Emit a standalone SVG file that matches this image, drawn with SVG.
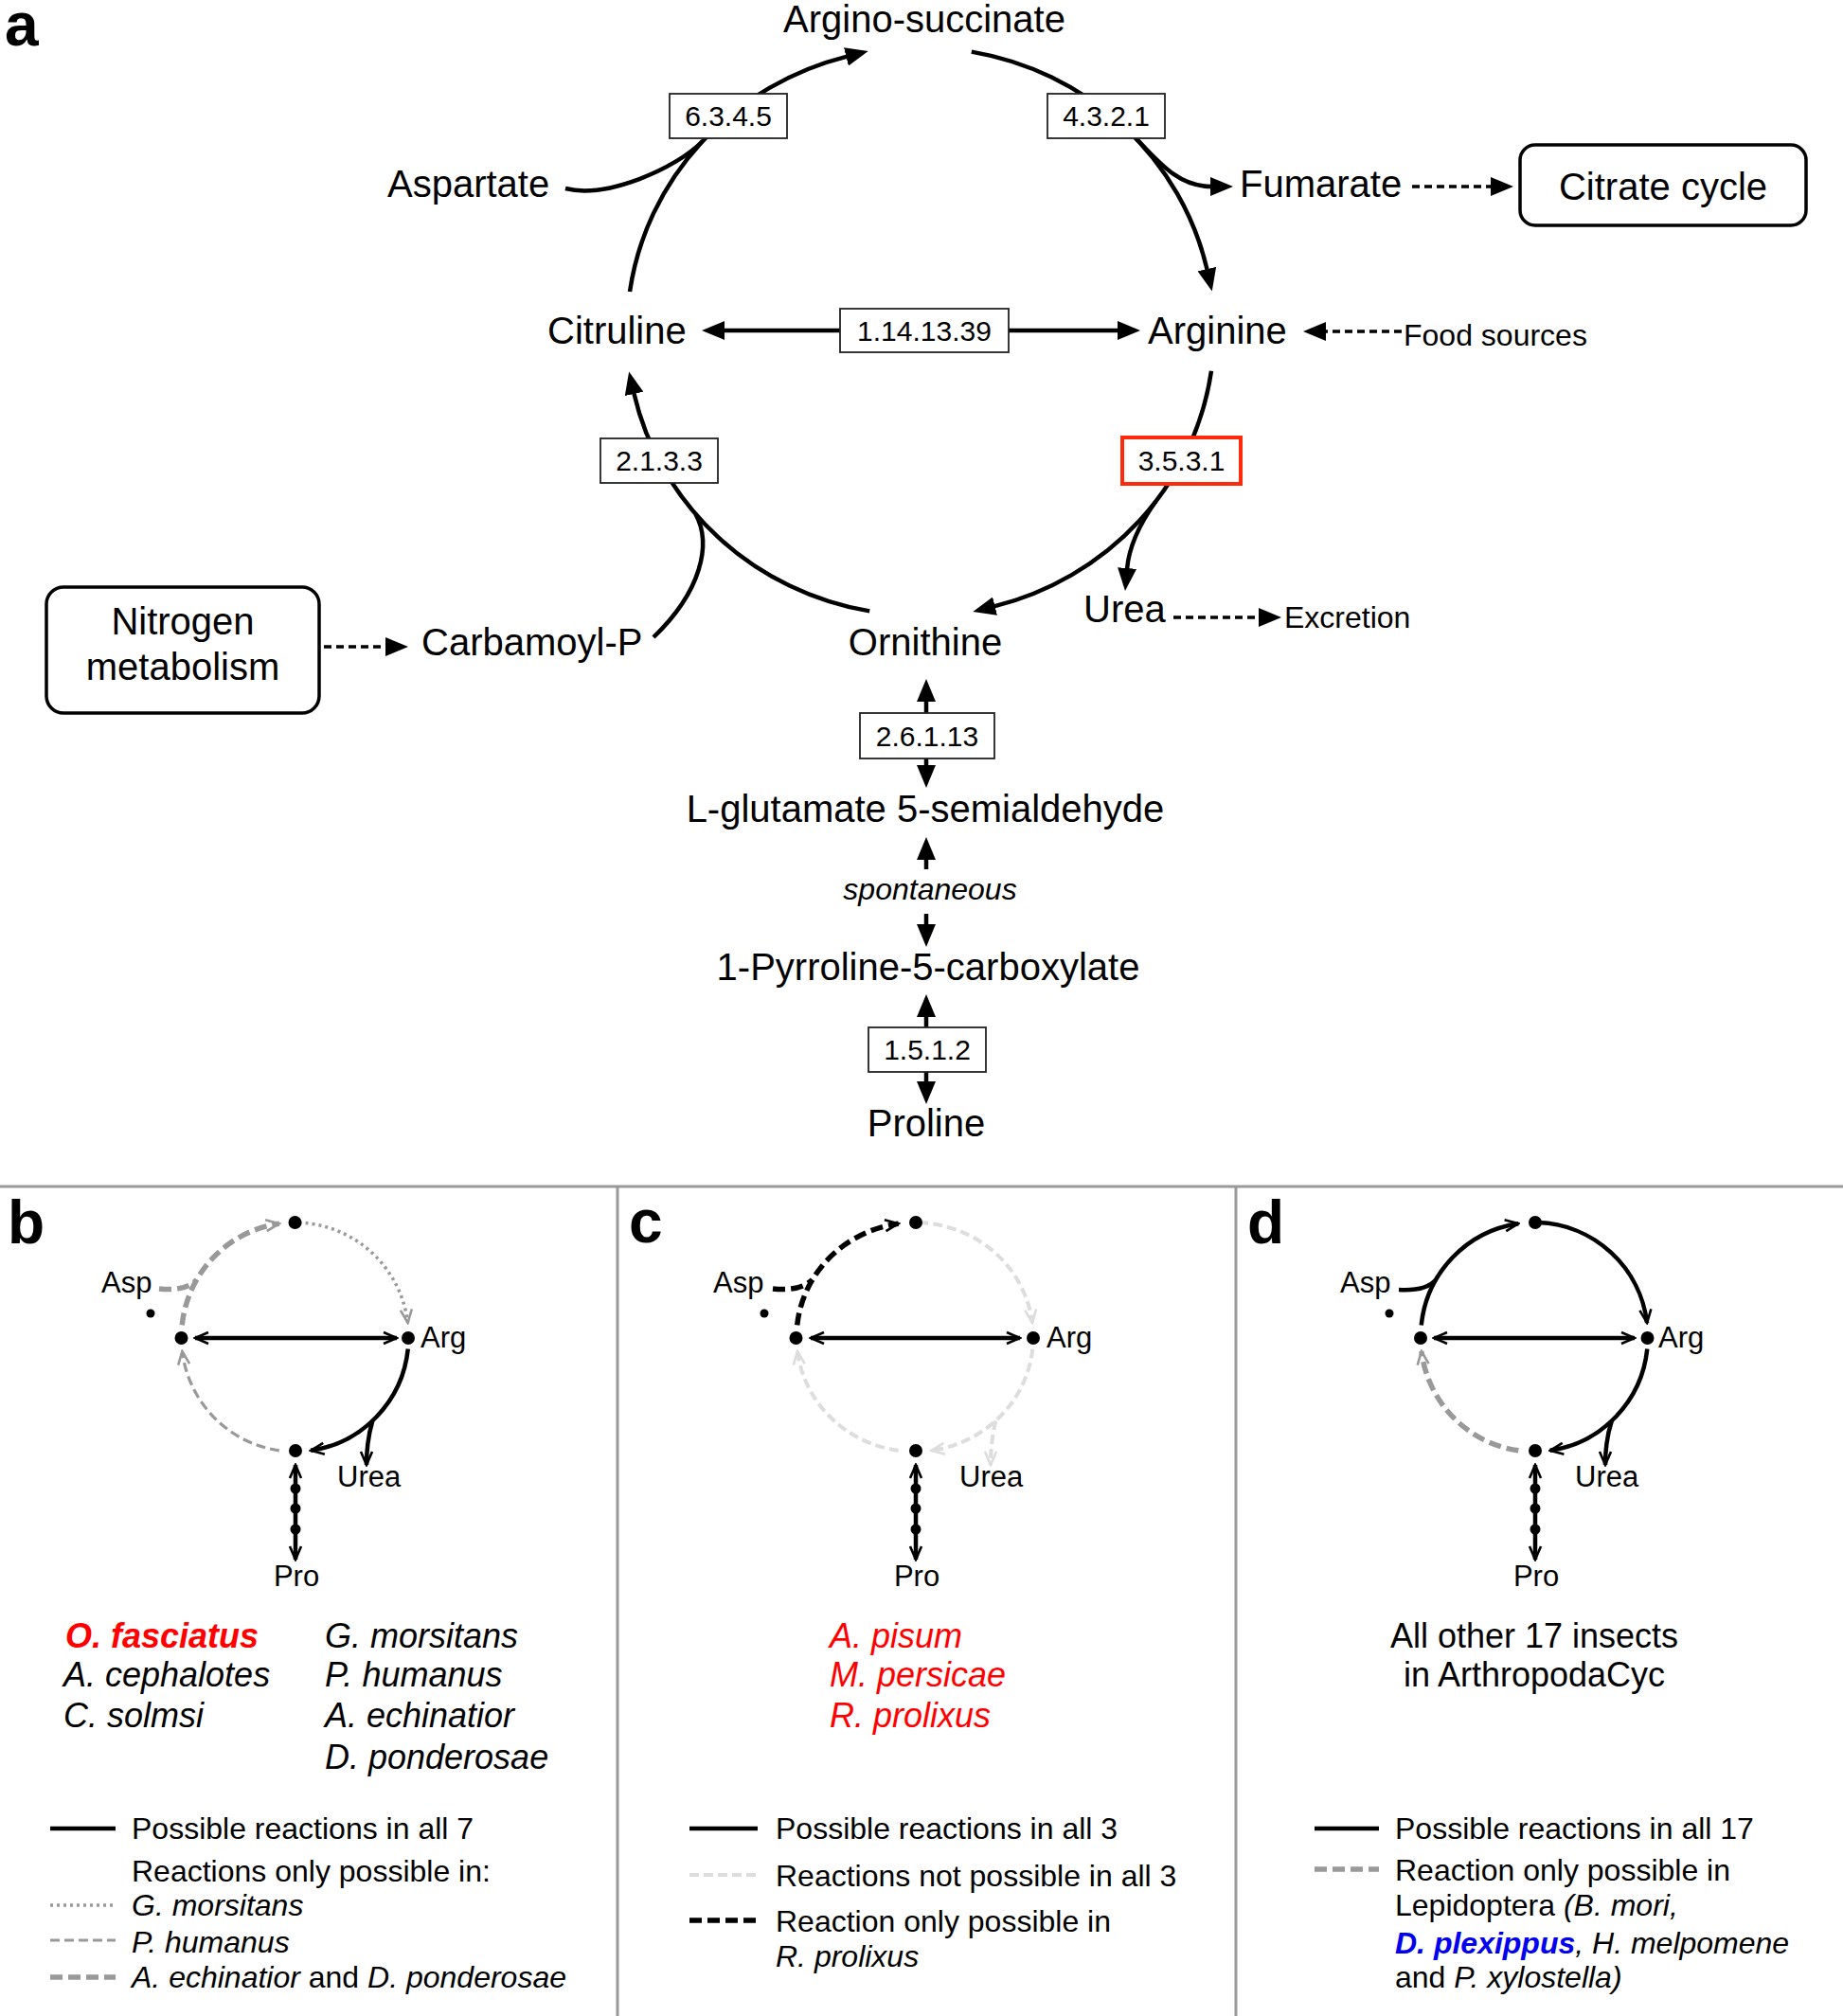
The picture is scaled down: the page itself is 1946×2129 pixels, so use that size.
<svg xmlns="http://www.w3.org/2000/svg" width="1946" height="2129" viewBox="0 0 1946 2129">
<style>
text{font-family:"Liberation Sans",Arial,sans-serif;fill:#000}
.lab{font-size:64px;font-weight:bold}
.met{font-size:40px}
.sm{font-size:32px}
.ec{font-size:30px;text-anchor:middle}
.mid{text-anchor:middle}
.it{font-style:italic}
.sp{font-size:36px}
.leg{font-size:32px}
.mini{font-size:31px}
.box{fill:#fff;stroke:#222;stroke-width:1.8}
.rbox{fill:#fff;stroke:#ff2a0a;stroke-width:4}
.rnd{fill:#fff;stroke:#000;stroke-width:3.5}
.arc{fill:none;stroke:#000;stroke-width:4.5}
.dsh{fill:none;stroke:#000;stroke-width:3.5;stroke-dasharray:8 5}
.s-blk{fill:none;stroke:#000;stroke-width:4.5}
.s-gth{fill:none;stroke:#999;stroke-width:5.5;stroke-dasharray:13 6}
.s-gmd{fill:none;stroke:#999;stroke-width:3.2;stroke-dasharray:10 5}
.s-gdt{fill:none;stroke:#999;stroke-width:3.5;stroke-dasharray:3 4}
.s-lt{fill:none;stroke:#ddd;stroke-width:4;stroke-dasharray:10 5}
.s-bdh{fill:none;stroke:#000;stroke-width:5.5;stroke-dasharray:13 6}
.div{stroke:#999;stroke-width:3;fill:none}
.red{fill:#ff0000}
.blue{fill:#0000ee}
</style>
<defs>
<marker id="ah" viewBox="0 0 24 20" markerWidth="24" markerHeight="20" refX="1" refY="10" orient="auto-start-reverse" markerUnits="userSpaceOnUse"><path d="M0,0 L24,10 L0,20 z" fill="#000"/></marker>
<marker id="ck" viewBox="-17 -9 19 18" markerWidth="19" markerHeight="18" refX="0" refY="0" orient="auto-start-reverse" markerUnits="userSpaceOnUse"><path d="M-14,-6 L0,0 L-14,6" fill="none" stroke="#000" stroke-width="2.6"/></marker>
<marker id="ckg" viewBox="-17 -9 19 18" markerWidth="19" markerHeight="18" refX="0" refY="0" orient="auto" markerUnits="userSpaceOnUse"><path d="M-14,-6 L0,0 L-14,6" fill="none" stroke="#999" stroke-width="2.6"/></marker>
<marker id="ckl" viewBox="-17 -9 19 18" markerWidth="19" markerHeight="18" refX="0" refY="0" orient="auto" markerUnits="userSpaceOnUse"><path d="M-14,-6 L0,0 L-14,6" fill="none" stroke="#ddd" stroke-width="2.6"/></marker>
</defs>
<rect width="1946" height="2129" fill="#fff"/>

<!-- ================= Panel a ================= -->
<g id="connectors-a">
<path class="arc" d="M665,308 A310,300 0 0 1 894.4,59.6" marker-end="url(#ah)"/>
<path class="arc" d="M597,199 C640,210 714,178 741.6,149.2"/>
<path class="arc" d="M1025.8,54.6 A310,300 0 0 1 1274.6,285.1" marker-end="url(#ah)"/>
<path class="arc" d="M1200.3,147 C1225,173 1245,197 1279,197" marker-end="url(#ah)"/>
<path class="arc" d="M1279,391.8 A310,300 0 0 1 1049.6,640.4" marker-end="url(#ah)"/>
<path class="arc" d="M1220.2,529.7 C1202,555 1192,578 1190,601" marker-end="url(#ah)"/>
<path class="arc" d="M918.2,645.4 A310,300 0 0 1 669.3,414.9" marker-end="url(#ah)"/>
<path class="arc" d="M690,673 C740,625 752,575 734.5,542.9"/>
<path class="arc" d="M887,349 L764,349" marker-end="url(#ah)"/>
<path class="arc" d="M1065,349 L1181,349" marker-end="url(#ah)"/>
<path class="arc" d="M978,753 L978,740" marker-end="url(#ah)"/>
<path class="arc" d="M978,801 L978,809" marker-end="url(#ah)"/>
<path class="arc" d="M978,918 L978,907" marker-end="url(#ah)"/>
<path class="arc" d="M978,965 L978,977" marker-end="url(#ah)"/>
<path class="arc" d="M978,1085 L978,1073" marker-end="url(#ah)"/>
<path class="arc" d="M978,1132 L978,1143" marker-end="url(#ah)"/>
<path class="dsh" d="M1480,350 L1399,350" marker-end="url(#ah)"/>
<path class="dsh" d="M1491,197 L1575,197" marker-end="url(#ah)"/>
<path class="dsh" d="M342,683 L408,683" marker-end="url(#ah)"/>
<path class="dsh" d="M1239,652 L1330,652" marker-end="url(#ah)"/>
</g>

<text class="lab" x="5" y="48">a</text>

<g id="n-arginosuccinate"><text class="met mid" x="976" y="34">Argino-succinate</text></g>
<g id="n-aspartate"><text class="met" x="409" y="208">Aspartate</text></g>
<g id="n-fumarate"><text class="met" x="1309" y="208">Fumarate</text></g>
<g id="n-citrate"><rect class="rnd" x="1605" y="153" width="302" height="85" rx="16"/><text class="met mid" x="1756" y="211">Citrate cycle</text></g>
<g id="n-citruline"><text class="met" x="578" y="363">Citruline</text></g>
<g id="n-arginine"><text class="met" x="1212" y="363">Arginine</text></g>
<g id="n-food"><text class="sm" x="1482" y="365">Food sources</text></g>
<g id="n-nitrogen"><rect class="rnd" x="49" y="620" width="288" height="133" rx="18"/><text class="met mid" x="193" y="670">Nitrogen</text><text class="met mid" x="193" y="718">metabolism</text></g>
<g id="n-carbamoyl"><text class="met" x="445" y="692">Carbamoyl-P</text></g>
<g id="n-ornithine"><text class="met mid" x="977" y="692">Ornithine</text></g>
<g id="n-urea"><text class="met" x="1144" y="657">Urea</text></g>
<g id="n-excretion"><text class="sm" x="1356" y="663">Excretion</text></g>
<g id="n-lglut"><text class="met mid" x="977" y="868">L-glutamate 5-semialdehyde</text></g>
<g id="n-spont"><text class="sm it mid" x="982" y="950">spontaneous</text></g>
<g id="n-p5c"><text class="met mid" x="980" y="1035">1-Pyrroline-5-carboxylate</text></g>
<g id="n-proline"><text class="met mid" x="978" y="1200">Proline</text></g>

<g id="ec-6345"><rect class="box" x="707" y="99" width="124" height="47"/><text class="ec" x="769" y="133">6.3.4.5</text></g>
<g id="ec-4321"><rect class="box" x="1106" y="99" width="124" height="47"/><text class="ec" x="1168" y="133">4.3.2.1</text></g>
<g id="ec-1141339"><rect class="box" x="887" y="326" width="178" height="46"/><text class="ec" x="976" y="360">1.14.13.39</text></g>
<g id="ec-2133"><rect class="box" x="634" y="463" width="124" height="47"/><text class="ec" x="696" y="497">2.1.3.3</text></g>
<g id="ec-3531"><rect class="rbox" x="1185" y="462" width="125" height="49"/><text class="ec" x="1247.5" y="497">3.5.3.1</text></g>
<g id="ec-26113"><rect class="box" x="908" y="753" width="142" height="48"/><text class="ec" x="979" y="788">2.6.1.13</text></g>
<g id="ec-1512"><rect class="box" x="917" y="1085" width="124" height="47"/><text class="ec" x="979" y="1119">1.5.1.2</text></g>

<!-- dividers -->
<g id="dividers">
<path class="div" d="M0,1253 H1946"/>
<path class="div" d="M652,1253 V2129"/>
<path class="div" d="M1305,1253 V2129"/>
</g>

<!-- ================= Panel b ================= -->
<text class="lab" x="8" y="1313">b</text>
<g id="connectors-b">
<path class="s-gth" d="M192.2,1399.4 A120,121 0 0 1 294.8,1292.2" marker-end="url(#ckg)"/>
<path class="s-gth" d="M168,1361 C186,1363 200,1360 207.6,1351.5"/>
<path class="s-gdt" d="M315.7,1291.1 A120,121 0 0 1 430.6,1397" marker-end="url(#ckg)"/>
<path class="s-blk" d="M430.8,1424.6 A120,121 0 0 1 328.2,1531.8" marker-end="url(#ck)"/>
<path class="s-blk" d="M393.3,1500.5 C389,1515 387,1530 387,1547" stroke-width="3.5" marker-end="url(#ck)"/>
<path class="s-gmd" d="M294.8,1531.8 A120,121 0 0 1 192.4,1427" marker-end="url(#ckg)"/>
<path class="s-blk" d="M206,1413 H419" stroke-width="4" marker-start="url(#ck)" marker-end="url(#ck)"/>
<path class="s-blk" d="M312,1547 V1647" stroke-width="4" marker-start="url(#ck)" marker-end="url(#ck)"/>
</g>
<g id="b-nodes">
<circle cx="311.5" cy="1291" r="7"/><circle cx="191.5" cy="1413" r="7"/><circle cx="431" cy="1413" r="7"/><circle cx="312" cy="1532" r="7"/>
<circle cx="159" cy="1387" r="4.5"/>
<circle cx="312" cy="1572" r="5.5"/><circle cx="312" cy="1593" r="5.5"/><circle cx="312" cy="1615" r="5.5"/>
<text class="mini" x="107" y="1365">Asp</text>
<text class="mini" x="444" y="1423">Arg</text>
<text class="mini" x="356" y="1570">Urea</text>
<text class="mini mid" x="313" y="1675">Pro</text>
</g>
<g id="b-species">
<text class="sp it red" x="69" y="1740" font-weight="bold">O. fasciatus</text>
<text class="sp it" x="67" y="1781">A. cephalotes</text>
<text class="sp it" x="67" y="1824">C. solmsi</text>
<text class="sp it" x="343" y="1740">G. morsitans</text>
<text class="sp it" x="343" y="1781">P. humanus</text>
<text class="sp it" x="343" y="1824">A. echinatior</text>
<text class="sp it" x="343" y="1868">D. ponderosae</text>
</g>
<g id="b-legend">
<path class="s-blk" d="M53,1931 H122" stroke-width="5"/>
<text class="leg" x="139" y="1942">Possible reactions in all 7</text>
<text class="leg" x="139" y="1987">Reactions only possible in:</text>
<path class="s-gdt" d="M53,2012 H122"/>
<text class="leg it" x="139" y="2023">G. morsitans</text>
<path class="s-gmd" d="M53,2049 H122"/>
<text class="leg it" x="139" y="2062">P. humanus</text>
<path class="s-gth" d="M53,2088 H122"/>
<text class="leg" x="139" y="2099"><tspan font-style="italic">A. echinatior</tspan> and <tspan font-style="italic">D. ponderosae</tspan></text>
</g>

<!-- ================= Panel c ================= -->
<text class="lab" x="664" y="1312">c</text>
<g id="connectors-c">
<path class="s-bdh" d="M841.7,1399.4 A125,121 0 0 1 948.6,1292.2" marker-end="url(#ck)"/>
<path class="s-bdh" d="M816,1361 C834,1363 849,1360 857.7,1351.5"/>
<path class="s-lt" d="M970.4,1291.1 A125,121 0 0 1 1090,1397" marker-end="url(#ckl)"/>
<path class="s-lt" d="M1090.3,1424.6 A125,121 0 0 1 983.4,1531.8" marker-end="url(#ckl)"/>
<path class="s-lt" d="M1051.3,1500.5 C1048,1515 1046,1530 1046,1547" stroke-width="3.5" marker-end="url(#ckl)"/>
<path class="s-lt" d="M948.6,1531.8 A125,121 0 0 1 842,1427" marker-end="url(#ckl)"/>
<path class="s-blk" d="M856,1413 H1077" stroke-width="4" marker-start="url(#ck)" marker-end="url(#ck)"/>
<path class="s-blk" d="M967,1547 V1647" stroke-width="4" marker-start="url(#ck)" marker-end="url(#ck)"/>
</g>
<g id="c-nodes">
<circle cx="967" cy="1291" r="7"/><circle cx="840.5" cy="1413" r="7"/><circle cx="1091" cy="1413" r="7"/><circle cx="967" cy="1532" r="7"/>
<circle cx="807" cy="1387" r="4.5"/>
<circle cx="967" cy="1572" r="5.5"/><circle cx="967" cy="1593" r="5.5"/><circle cx="967" cy="1615" r="5.5"/>
<text class="mini" x="753" y="1365">Asp</text>
<text class="mini" x="1105" y="1423">Arg</text>
<text class="mini" x="1013" y="1570">Urea</text>
<text class="mini mid" x="968" y="1675">Pro</text>
</g>
<g id="c-species">
<text class="sp it red" x="876" y="1740">A. pisum</text>
<text class="sp it red" x="876" y="1781">M. persicae</text>
<text class="sp it red" x="876" y="1824">R. prolixus</text>
</g>
<g id="c-legend">
<path class="s-blk" d="M728,1931 H800" stroke-width="5"/>
<text class="leg" x="819" y="1942">Possible reactions in all 3</text>
<path class="s-lt" d="M728,1980 H800"/>
<text class="leg" x="819" y="1992">Reactions not possible in all 3</text>
<path class="s-bdh" d="M728,2028 H800"/>
<text class="leg" x="819" y="2040">Reaction only possible in</text>
<text class="leg it" x="819" y="2077">R. prolixus</text>
</g>

<!-- ================= Panel d ================= -->
<text class="lab" x="1317" y="1313">d</text>
<g id="connectors-d">
<path class="s-blk" d="M1500.7,1399.4 A120,121 0 0 1 1603.3,1292.2" marker-end="url(#ck)"/>
<path class="s-blk" d="M1477,1362 C1495,1363 1509,1360 1516.1,1351.5"/>
<path class="s-blk" d="M1624.2,1291.1 A120,121 0 0 1 1739.1,1397" marker-end="url(#ck)"/>
<path class="s-blk" d="M1739.3,1424.6 A120,121 0 0 1 1636.7,1531.8" marker-end="url(#ck)"/>
<path class="s-blk" d="M1701.8,1500.5 C1697,1515 1695,1530 1695,1547" stroke-width="3.5" marker-end="url(#ck)"/>
<path class="s-gth" d="M1603.3,1531.8 A120,121 0 0 1 1500.9,1427" marker-end="url(#ckg)"/>
<path class="s-blk" d="M1514,1413 H1726" stroke-width="4" marker-start="url(#ck)" marker-end="url(#ck)"/>
<path class="s-blk" d="M1621,1547 V1647" stroke-width="4" marker-start="url(#ck)" marker-end="url(#ck)"/>
</g>
<g id="d-nodes">
<circle cx="1621" cy="1291" r="7"/><circle cx="1500" cy="1413" r="7"/><circle cx="1739.5" cy="1413" r="7"/><circle cx="1621" cy="1532" r="7"/>
<circle cx="1467" cy="1387" r="4.5"/>
<circle cx="1621" cy="1572" r="5.5"/><circle cx="1621" cy="1593" r="5.5"/><circle cx="1621" cy="1615" r="5.5"/>
<text class="mini" x="1415" y="1365">Asp</text>
<text class="mini" x="1751" y="1423">Arg</text>
<text class="mini" x="1663" y="1570">Urea</text>
<text class="mini mid" x="1622" y="1675">Pro</text>
</g>
<g id="d-species">
<text class="sp mid" x="1620" y="1740">All other 17 insects</text>
<text class="sp mid" x="1620" y="1781">in ArthropodaCyc</text>
</g>
<g id="d-legend">
<path class="s-blk" d="M1388,1931 H1456" stroke-width="5"/>
<text class="leg" x="1473" y="1942">Possible reactions in all 17</text>
<path class="s-gth" d="M1388,1974 H1456"/>
<text class="leg" x="1473" y="1986">Reaction only possible in</text>
<text class="leg" x="1473" y="2023">Lepidoptera <tspan font-style="italic">(B. mori,</tspan></text>
<text class="leg it" x="1473" y="2063"><tspan class="blue" font-weight="bold">D. plexippus</tspan>, H. melpomene</text>
<text class="leg" x="1473" y="2099">and <tspan font-style="italic">P. xylostella)</tspan></text>
</g>
</svg>
